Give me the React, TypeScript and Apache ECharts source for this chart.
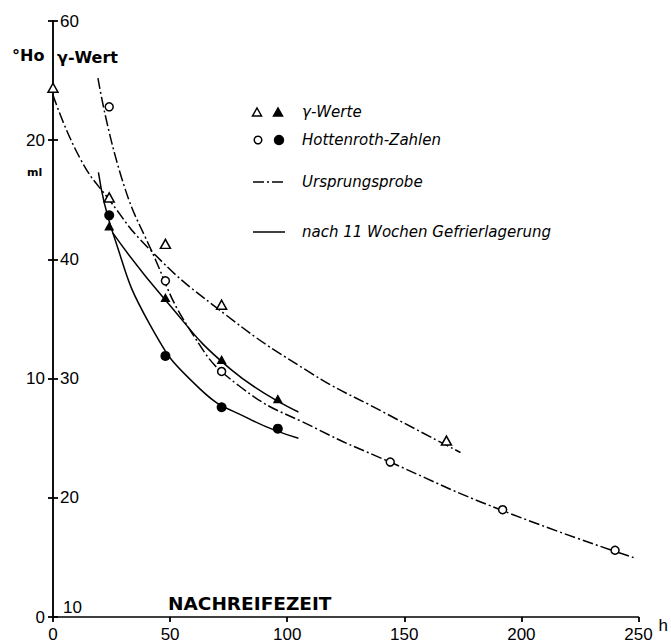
import { useEffect, useRef } from "react";
import * as echarts from "echarts";

// Measured points (hours of post-ripening time)
const gammaOrigHours = [0, 24, 48, 72, 168];
const gammaOrigValues = [54.4, 45.2, 41.3, 36.2, 24.8];

const hoOrigHours = [24, 48, 72, 144, 192, 240];
const hoOrigValues = [21.4, 14.1, 10.3, 6.5, 4.5, 2.8];

const gammaFrozenHours = [24, 48, 72, 96];
const gammaFrozenValues = [42.8, 36.8, 31.6, 28.3];

const hoFrozenHours = [24, 48, 72, 96];
const hoFrozenValues = [16.85, 10.95, 8.8, 7.9];

// Fitted curves
const gammaOrigCurveHours = [0, 11.5, 24, 41, 69.5, 109, 140, 174];
const gammaOrigCurveValues = [53.8, 48.5, 45.0, 40.9, 36.0, 30.6, 27.3, 23.8];

const hoOrigCurveHours = [19.2, 29.2, 41.9, 59.4, 79.4, 112.5, 143.9, 191, 249.2];
const hoOrigCurveValues = [22.6, 18.45, 15.4, 11.9, 9.7, 7.9, 6.5, 4.5, 2.45];

const gammaFrozenCurveHours = [25.6, 47.5, 75.8, 104.8];
const gammaFrozenCurveValues = [42.2, 36.7, 30.8, 27.2];

const hoFrozenCurveHours = [19.4, 25.6, 41.2, 62.4, 84, 104.8];
const hoFrozenCurveValues = [18.65, 16.1, 12.3, 9.6, 8.3, 7.5];

// Axis settings
const hourAxis = { min: 0, max: 250, step: 50 };
const gammaAxis = { min: 10, max: 60, step: 10, hiddenLabels: [50] };
const hoAxis = { min: 0, max: 25, step: 5, shownLabels: [0, 10, 20] };

const legendTexts = ["γ-Werte", "Hottenroth-Zahlen", "Ursprungsprobe", "nach 11 Wochen Gefrierlagerung"];

const FONT = '"Liberation Sans", Arial, sans-serif';
const BOLD = '"DejaVu Sans", sans-serif';
const DASH_DOT = [11, 3, 2, 3];

const pairs = (xs: number[], ys: number[]) => xs.map((x, i) => [x, ys[i]]);

export default function App() {
  const ref = useRef<HTMLDivElement>(null);

  useEffect(() => {
    if (!ref.current) return;
    const chart = echarts.init(ref.current, null, { renderer: "svg" });

    const curve = (name: string, data: number[][], yAxisIndex: number, dashed: boolean) => ({
      name,
      type: "line",
      yAxisIndex,
      data,
      smooth: 0.5,
      showSymbol: false,
      symbol: "none",
      z: 2,
      lineStyle: { color: "#000", width: 1.5, type: dashed ? DASH_DOT : "solid" },
    });

    const points = (name: string, data: number[][], yAxisIndex: number, symbol: string, filled: boolean) => ({
      name,
      type: "scatter",
      yAxisIndex,
      data,
      symbol,
      symbolSize: symbol === "triangle" ? [10, 9] : filled ? 10 : 8,
      z: 4,
      itemStyle: {
        color: filled ? "#000" : "#fff",
        borderColor: "#000",
        borderWidth: filled ? 0 : 1.5,
        opacity: 1,
      },
    });

    const tri = (cx: number, cy: number, filled: boolean) => ({
      type: "polygon",
      shape: { points: [[cx - 4.5, cy + 4], [cx + 4.5, cy + 4], [cx, cy - 4]] },
      style: { fill: filled ? "#000" : "#fff", stroke: "#000", lineWidth: 1.5 },
    });
    const dot = (cx: number, cy: number, filled: boolean) => ({
      type: "circle",
      shape: { cx, cy, r: filled ? 4.5 : 3.8 },
      style: { fill: filled ? "#000" : "#fff", stroke: "#000", lineWidth: 1.5 },
    });
    const label = (text: string, x: number, y: number, font: string) => ({
      type: "text",
      x,
      y,
      style: {
        text,
        font,
        fill: "#000",
        align: "left",
        textAlign: "left",
        verticalAlign: "middle",
        textVerticalAlign: "middle",
      },
    });

    const tickLine = { color: "#000", width: 1.8 };

    chart.setOption({
      animation: false,
      backgroundColor: "#fff",
      grid: { left: 53, right: 29, top: 21, bottom: 27, containLabel: false },
      xAxis: {
        type: "value",
        min: hourAxis.min,
        max: hourAxis.max,
        interval: hourAxis.step,
        axisLine: { show: true, lineStyle: { color: "#000", width: 1.5 } },
        axisTick: { show: true, inside: false, length: 5, lineStyle: tickLine },
        axisLabel: { margin: 9, color: "#000", fontSize: 17, fontFamily: FONT },
        splitLine: { show: false },
        name: "h",
        nameLocation: "end",
        nameGap: 13,
        nameTextStyle: { color: "#000", fontSize: 17, fontFamily: FONT, align: "left", verticalAlign: "top" },
      },
      yAxis: [
        {
          type: "value",
          min: gammaAxis.min,
          max: gammaAxis.max,
          interval: gammaAxis.step,
          position: "left",
          axisLine: { show: true, lineStyle: { color: "#000", width: 1.5 } },
          axisTick: { show: true, inside: true, length: 5, lineStyle: tickLine },
          axisLabel: {
            inside: true,
            margin: 7,
            color: "#000",
            fontSize: 17,
            fontFamily: FONT,
            formatter: (v: number) =>
              gammaAxis.hiddenLabels.includes(v) ? "" : v === gammaAxis.min ? `{lo|${v}}` : String(v),
            rich: {
              lo: { fontSize: 17, fontFamily: FONT, color: "#000", padding: [0, 0, 20, 3] },
            },
          },
          splitLine: { show: false },
        },
        {
          type: "value",
          min: hoAxis.min,
          max: hoAxis.max,
          interval: hoAxis.step,
          position: "left",
          offset: 0,
          axisLine: { show: true, lineStyle: { color: "#000", width: 1.5 } },
          axisTick: { show: true, inside: false, length: 5, lineStyle: tickLine },
          axisLabel: {
            margin: 8,
            color: "#000",
            fontSize: 17,
            fontFamily: FONT,
            formatter: (v: number) => (hoAxis.shownLabels.includes(v) ? String(v) : ""),
          },
          splitLine: { show: false },
        },
      ],
      series: [
        curve("γ Ursprungsprobe Kurve", pairs(gammaOrigCurveHours, gammaOrigCurveValues), 0, true),
        curve("Ho Ursprungsprobe Kurve", pairs(hoOrigCurveHours, hoOrigCurveValues), 1, true),
        curve("γ Gefrierlagerung Kurve", pairs(gammaFrozenCurveHours, gammaFrozenCurveValues), 0, false),
        curve("Ho Gefrierlagerung Kurve", pairs(hoFrozenCurveHours, hoFrozenCurveValues), 1, false),
        points("γ Ursprungsprobe", pairs(gammaOrigHours, gammaOrigValues), 0, "triangle", false),
        points("Ho Ursprungsprobe", pairs(hoOrigHours, hoOrigValues), 1, "circle", false),
        points("γ Gefrierlagerung", pairs(gammaFrozenHours, gammaFrozenValues), 0, "triangle", true),
        points("Ho Gefrierlagerung", pairs(hoFrozenHours, hoFrozenValues), 1, "circle", true),
      ],
      graphic: [
        label("°Ho", 12, 55, `bold 16px ${BOLD}`),
        label("γ-Wert", 57, 57, `bold 16px ${BOLD}`),
        label("ml", 27, 172, `bold 11px ${BOLD}`),
        label("NACHREIFEZEIT", 168, 603, `bold 18.5px ${BOLD}`),
        tri(257, 112, false),
        tri(278, 112, true),
        dot(258, 140, false),
        dot(279, 140, true),
        {
          type: "line",
          shape: { x1: 253, y1: 182, x2: 285, y2: 182 },
          style: { stroke: "#000", lineWidth: 1.5, lineDash: DASH_DOT },
        },
        {
          type: "line",
          shape: { x1: 253, y1: 232, x2: 285, y2: 232 },
          style: { stroke: "#000", lineWidth: 1.5 },
        },
        label(legendTexts[0], 302, 112, `italic 15px ${BOLD}`),
        label(legendTexts[1], 302, 140, `italic 15px ${BOLD}`),
        label(legendTexts[2], 302, 182, `italic 15px ${BOLD}`),
        label(legendTexts[3], 302, 232, `italic 15px ${BOLD}`),
      ],
    });

    return () => chart.dispose();
  }, []);

  return <div ref={ref} style={{ position: "fixed", left: 0, top: 0, width: 671, height: 644 }} />;
}
